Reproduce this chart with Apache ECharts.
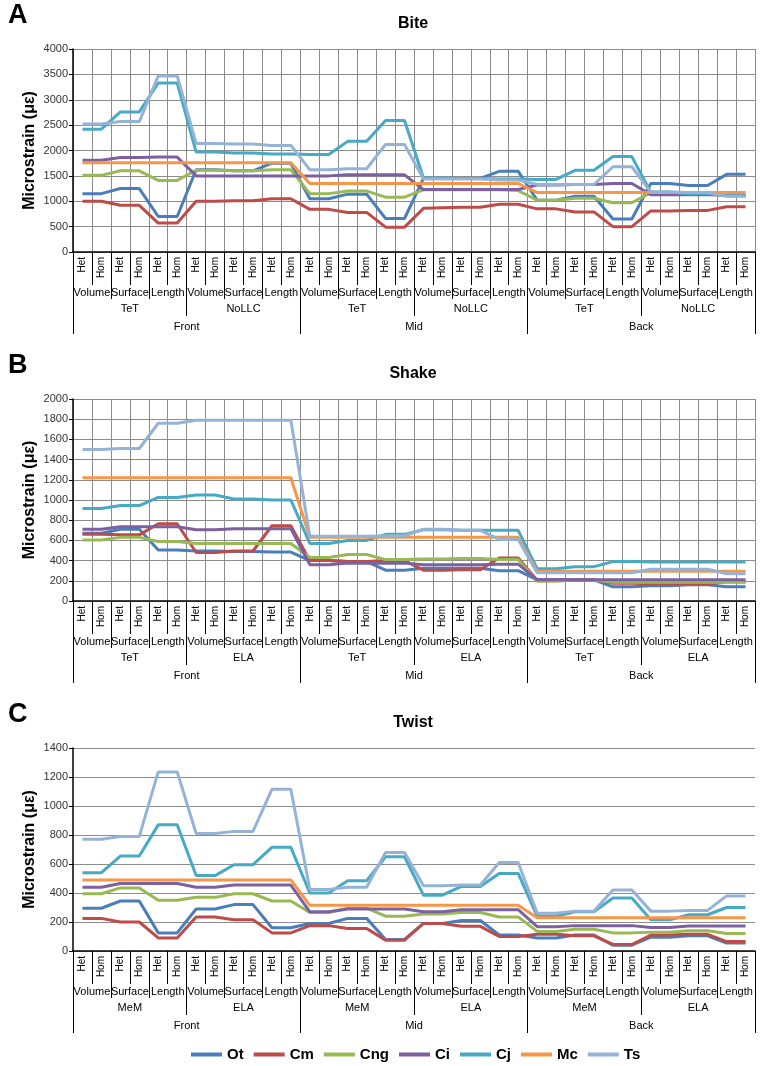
<!DOCTYPE html>
<html>
<head>
<meta charset="utf-8">
<script src="https://cdn.jsdelivr.net/npm/echarts@6/dist/echarts.min.js"></script>
<style>
  html, body { margin: 0; padding: 0; background: #fff; }
  #chart { width: 762px; height: 1066px; }
</style>
</head>
<body>
<div id="chart"></div>
<script>
// category levels
var level1 = [];
for (var k = 0; k < 18; k++) { level1.push('Het', 'Hom'); }
var level2 = [];
for (var k = 0; k < 6; k++) { level2.push('Volume', 'Surface', 'Length'); }
var level3Bite = ['TeT', 'NoLLC', 'TeT', 'NoLLC', 'TeT', 'NoLLC'];
var level3Shake = ['TeT', 'ELA', 'TeT', 'ELA', 'TeT', 'ELA'];
var level3Twist = ['MeM', 'ELA', 'MeM', 'ELA', 'MeM', 'ELA'];
var level4 = ['Front', 'Mid', 'Back'];

var seriesNames = ['Ot', 'Cm', 'Cng', 'Ci', 'Cj', 'Mc', 'Ts'];
var seriesColors = ['#4A7EBB', '#BE4B48', '#98B954', '#7D60A0', '#46AAC5', '#F79646', '#95B3D7'];

// A - Bite
var biteOt  = [1150,1150,1250,1250,700,700, 1620,1620,1600,1600,1750,1750, 1050,1050,1140,1140,660,660, 1450,1450,1450,1450,1590,1590, 1020,1020,1100,1100,650,650, 1350,1350,1310,1310,1530,1530];
var biteCm  = [1000,1000,920,920,570,570, 1000,1000,1010,1010,1050,1050, 840,840,780,780,490,490, 860,870,880,880,940,940, 850,850,790,790,500,500, 810,810,820,820,890,890];
var biteCng = [1510,1510,1600,1600,1410,1410, 1610,1610,1600,1600,1620,1620, 1150,1150,1200,1200,1080,1080, 1225,1225,1225,1225,1225,1210, 1020,1020,1060,1060,970,970, 1170,1170,1160,1160,1140,1140];
var biteCi  = [1810,1810,1860,1860,1870,1870, 1500,1500,1500,1500,1500,1500, 1500,1500,1520,1520,1520,1520, 1230,1230,1230,1230,1230,1230, 1320,1320,1330,1330,1350,1350, 1130,1130,1130,1130,1120,1120];
var biteCj  = [2420,2420,2760,2760,3330,3330, 1970,1970,1950,1950,1930,1930, 1920,1920,2180,2180,2590,2590, 1460,1460,1450,1450,1440,1440, 1430,1430,1610,1610,1880,1880, 1180,1180,1150,1150,1110,1110];
var biteMc  = [1760,1760,1760,1760,1760,1760, 1760,1760,1760,1760,1760,1760, 1350,1350,1350,1350,1350,1350, 1350,1350,1350,1350,1350,1350, 1170,1170,1170,1170,1170,1170, 1170,1170,1170,1170,1170,1170];
var biteTs  = [2520,2520,2570,2570,3470,3470, 2140,2140,2130,2130,2100,2100, 1620,1620,1640,1640,2120,2120, 1440,1440,1440,1440,1420,1420, 1330,1330,1330,1330,1680,1680, 1180,1180,1170,1170,1100,1100];

// B - Shake
var shakeOt  = [670,670,710,710,505,505, 495,495,490,490,485,485, 400,400,390,390,305,305, 325,325,325,325,300,300, 210,210,210,210,140,140, 150,150,160,160,140,140];
var shakeCm  = [660,660,655,655,765,765, 480,480,495,495,745,745, 400,400,390,390,400,400, 305,305,310,310,425,425, 205,205,207,207,175,175, 170,170,170,170,190,190];
var shakeCng = [605,605,630,630,590,590, 570,570,570,570,570,570, 430,430,460,460,410,410, 415,415,420,420,410,410, 195,195,207,207,185,185, 185,185,185,185,185,185];
var shakeCi  = [710,710,735,735,735,735, 705,705,715,715,715,715, 360,360,375,375,375,375, 358,358,360,360,365,365, 210,210,210,210,210,210, 210,210,210,210,210,210];
var shakeCj  = [915,915,945,945,1025,1025, 1050,1050,1010,1010,1000,1000, 570,570,600,600,660,660, 705,705,700,700,700,700, 320,320,340,340,390,390, 385,385,385,385,385,385];
var shakeMc  = [1220,1220,1220,1220,1220,1220, 1220,1220,1220,1220,1220,1220, 630,630,630,630,630,630, 630,630,630,630,630,630, 295,295,295,295,295,295, 295,295,295,295,295,295];
var shakeTs  = [1500,1500,1510,1510,1760,1760, 1790,1790,1790,1790,1790,1790, 640,640,640,640,645,645, 710,710,700,700,610,610, 280,280,280,280,280,280, 315,315,315,315,270,270];

// C - Twist
var twistOt  = [295,295,345,345,125,125, 290,290,320,320,160,160, 190,190,225,225,80,80, 190,190,210,210,110,110, 90,90,110,110,40,40, 95,95,105,105,55,55];
var twistCm  = [225,225,200,200,90,90, 235,235,215,215,125,125, 175,175,155,155,75,75, 190,190,170,170,100,100, 115,115,105,105,45,45, 110,110,115,115,65,65];
var twistCng = [395,395,435,435,350,350, 370,370,395,395,345,345, 265,265,295,295,240,240, 255,255,265,265,235,235, 135,135,150,150,125,125, 130,130,140,140,120,120];
var twistCi  = [440,440,465,465,465,465, 440,440,455,455,455,455, 270,270,290,290,290,290, 270,270,285,285,285,285, 168,168,175,175,175,175, 162,162,172,172,172,172];
var twistCj  = [540,540,655,655,870,870, 520,520,595,595,715,715, 400,400,485,485,650,650, 385,385,445,445,535,535, 240,240,270,270,365,365, 215,215,250,250,300,300];
var twistMc  = [490,490,490,490,490,490, 490,490,490,490,490,490, 315,315,315,315,315,315, 315,315,315,315,315,315, 230,230,230,230,230,230, 230,230,230,230,230,230];
var twistTs  = [770,770,790,790,1235,1235, 810,810,825,825,1115,1115, 425,425,440,440,680,680, 450,450,455,455,610,610, 260,260,275,275,420,420, 275,275,280,280,380,380];

var panels = [
  { letter: 'A', title: 'Bite',  top: 49,  height: 203, max: 4000, interval: 500, level3: level3Bite,  vGrid: true,
    data: [biteOt, biteCm, biteCng, biteCi, biteCj, biteMc, biteTs] },
  { letter: 'B', title: 'Shake', top: 399, height: 202, max: 2000, interval: 200, level3: level3Shake, vGrid: true,
    data: [shakeOt, shakeCm, shakeCng, shakeCi, shakeCj, shakeMc, shakeTs] },
  { letter: 'C', title: 'Twist', top: 748, height: 203, max: 1400, interval: 200, level3: level3Twist, vGrid: false,
    data: [twistOt, twistCm, twistCng, twistCi, twistCj, twistMc, twistTs] }
];

var FONT = '"Liberation Sans", Arial, sans-serif';
var gridColor = '#8c8c8c';

var grids = [], xAxes = [], yAxes = [], series = [], graphics = [];

panels.forEach(function (p, gi) {
  grids.push({ left: 73, right: 7, top: p.top, height: p.height });

  var tickStyle = { color: '#000', width: 1 };
  var base = xAxes.length;
  // Het / Hom
  xAxes.push({
    type: 'category', gridIndex: gi, position: 'bottom', data: level1,
    axisLine: { show: true, lineStyle: { color: '#000', width: 1.5 } },
    axisTick: { show: true, interval: 0, length: 33, lineStyle: tickStyle },
    axisLabel: { interval: 0, rotate: 90, margin: 5, fontSize: 10, color: '#000', fontFamily: FONT },
    splitLine: { show: p.vGrid, interval: 0, lineStyle: { color: gridColor, width: 1 } }
  });
  // Volume / Surface / Length
  xAxes.push({
    type: 'category', gridIndex: gi, position: 'bottom', offset: 0, data: level2,
    axisLine: { show: false },
    axisTick: { show: true, interval: 0, length: 47, lineStyle: tickStyle },
    axisLabel: { interval: 0, margin: 35, fontSize: 11, color: '#000', fontFamily: FONT },
    splitLine: { show: false }
  });
  // TeT / NoLLC etc.
  xAxes.push({
    type: 'category', gridIndex: gi, position: 'bottom', offset: 0, data: p.level3,
    axisLine: { show: false },
    axisTick: { show: true, interval: 0, length: 64, lineStyle: tickStyle },
    axisLabel: { interval: 0, margin: 51, fontSize: 11, color: '#000', fontFamily: FONT },
    splitLine: { show: false }
  });
  // Front / Mid / Back
  xAxes.push({
    type: 'category', gridIndex: gi, position: 'bottom', offset: 0, data: level4,
    axisLine: { show: false },
    axisTick: { show: true, interval: 0, length: 82, lineStyle: tickStyle },
    axisLabel: { interval: 0, margin: 69, fontSize: 11, color: '#000', fontFamily: FONT },
    splitLine: { show: false }
  });

  yAxes.push({
    type: 'value', gridIndex: gi, min: 0, max: p.max, interval: p.interval,
    name: 'Microstrain (\u03bc\u03b5)', nameLocation: 'middle', nameGap: 35, nameMoveOverlap: false,
    nameTextStyle: { fontSize: 16, fontWeight: 'bold', color: '#000', fontFamily: FONT },
    axisLine: { show: true, lineStyle: { color: '#000', width: 1.5 } },
    axisTick: { show: true, length: 4, lineStyle: { color: '#000' } },
    axisLabel: { fontSize: 11, color: '#333', margin: 5, fontFamily: FONT,
      formatter: function (v) { return String(v); } },
    splitLine: { show: true, lineStyle: { color: gridColor, width: 1 } }
  });

  seriesNames.forEach(function (name, si) {
    series.push({
      type: 'line', name: name, xAxisIndex: base, yAxisIndex: gi,
      data: p.data[si], symbol: 'none', color: seriesColors[si],
      lineStyle: { width: 3, color: seriesColors[si] },
      animation: false
    });
  });

  graphics.push({
    type: 'text', x: 8, y: p.top - 47,
    style: { text: p.letter, font: 'bold 27px ' + FONT, fill: '#000' }
  });
  graphics.push({
    type: 'text', x: 413, y: p.top - 25,
    style: { text: p.title, font: 'bold 16px ' + FONT, fill: '#000', textAlign: 'center', textVerticalAlign: 'middle' }
  });
});

var chart = echarts.init(document.getElementById('chart'));
chart.setOption({
  backgroundColor: '#fff',
  animation: false,
  grid: grids,
  xAxis: xAxes,
  yAxis: yAxes,
  series: series,
  graphic: graphics,
  legend: {
    data: seriesNames, left: 186, top: 1042, icon: 'rect', itemWidth: 31, itemHeight: 4, itemGap: 10,
    textStyle: { fontSize: 15, fontWeight: 'bold', color: '#000', fontFamily: '"Liberation Sans Narrow", ' + FONT }
  }
});
</script>
</body>
</html>
